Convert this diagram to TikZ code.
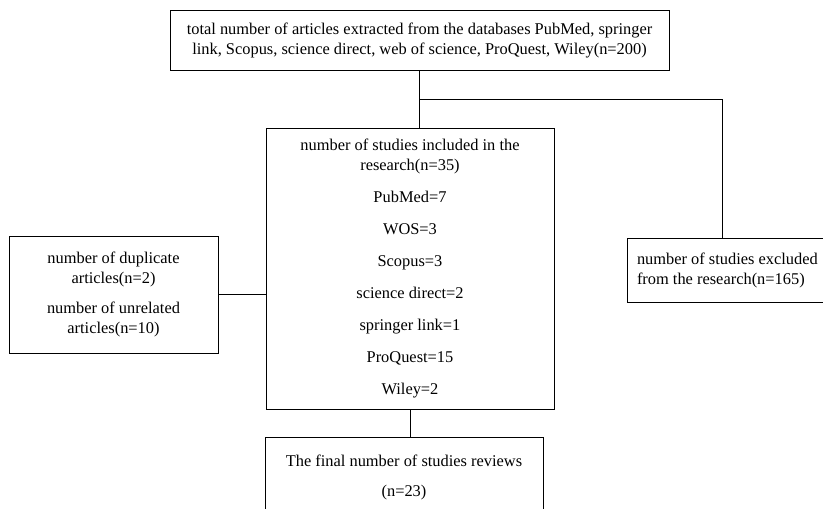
\documentclass[tikz,border=0pt]{standalone}
\usepackage{fontspec}
\setmainfont{Liberation Serif}
\usepackage{tikz}
\usetikzlibrary{positioning,calc}
\tikzset{
  box/.style={draw, line width=0.8pt, align=center, inner sep=4pt, font=\fontsize{16.4}{20}\selectfont},
  line/.style={line width=0.8pt},
}

\begin{document}
\begin{tikzpicture}[x=1pt,y=-1pt]
    \useasboundingbox (0,0) rectangle (823,509);
    \node[box, minimum width=499pt, minimum height=60pt] (total) at (419.5,40) {total number of articles extracted from the databases PubMed, springer\\ link, Scopus, science direct, web of science, ProQuest, Wiley(n=200)};
    \node[box, minimum width=288pt, minimum height=281pt] (incl) at (410,268.5) {number of studies included in the\\ research(n=35)\\[12pt] PubMed=7\\[12pt] WOS=3\\[12pt] Scopus=3\\[12pt] science direct=2\\[12pt] springer link=1\\[12pt] ProQuest=15\\[12pt] Wiley=2};
    \node[box, minimum width=209pt, minimum height=117pt] (dup) at (113.5,294.5) {number of duplicate\\ articles(n=2)\\[10pt] number of unrelated\\ articles(n=10)};
    \node[box, align=flush left, text width=190pt, inner xsep=10pt, minimum height=64pt] (excl) at (732,270) {number of studies excluded\\ from the research(n=165)};
    \node[box, minimum width=278pt, minimum height=80pt] (final) at (404,477) {The final number of studies reviews\\[10pt] (n=23)};
    \coordinate (split) at ($(total.south)!0.5!(total.south |- incl.north)$);
    \draw[line] (total.south) -- (total.south |- incl.north);
    \draw[line] (split) -- (split -| 722,0) -- (722,0 |- excl.north);
    \draw[line] (dup.east) -- (dup.east -| incl.west);
    \draw[line] (incl.south) -- (incl.south |- final.north);
  \end{tikzpicture}
\end{document}
